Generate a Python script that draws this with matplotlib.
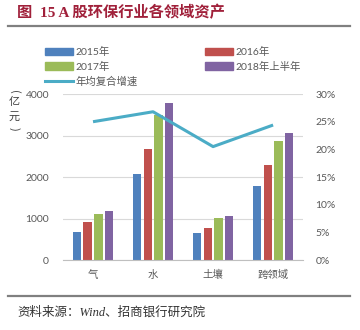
import matplotlib
matplotlib.use("Agg")
import matplotlib.pyplot as plt
import numpy as np
from matplotlib.patches import Patch
from matplotlib.lines import Line2D
from matplotlib.ticker import FuncFormatter

plt.rcParams['font.family'] = ['Lato', 'Noto Sans CJK SC', 'DejaVu Sans']

categories = ['气', '水', '土壤', '跨领域']
series_names = ['2015年', '2016年', '2017年', '2018年上半年']
assets_2015 = [670, 2080, 660, 1780]
assets_2016 = [910, 2680, 780, 2290]
assets_2017 = [1100, 3500, 1010, 2870]
assets_2018h1 = [1180, 3780, 1060, 3070]
cagr = [25.0, 26.8, 20.5, 24.4]
cagr_name = '年均复合增速'

colors = ['#4F81BD', '#C0504D', '#9BBB59', '#8064A2']
line_color = '#4BACC6'
text_gray = '#595959'

fig = plt.figure(figsize=(3.6, 3.3), dpi=100)
ax = fig.add_axes([0.175, 0.212, 0.667, 0.503])
ax2 = ax.twinx()

x = np.arange(len(categories))
step = 0.178
width = 0.14
for i, vals in enumerate([assets_2015, assets_2016, assets_2017, assets_2018h1]):
    ax.bar(x + (i - 1.5) * step, vals, width, color=colors[i], zorder=2)

ax2.plot(x, cagr, color=line_color, lw=2.2, solid_capstyle='butt', zorder=3)

ax.set_xlim(-0.5, 3.5)
ax.set_ylim(0, 4000)
ax.set_yticks(range(0, 4001, 1000))
ax2.set_ylim(0, 30)
ax2.set_yticks(range(0, 31, 5))
ax2.yaxis.set_major_formatter(FuncFormatter(lambda v, p: f'{int(v)}%'))

ax.set_xticks(x)
ax.set_xticklabels(categories)
ax.grid(axis='y', color='#D9D9D9', lw=0.8, zorder=0)
ax.set_axisbelow(True)
for a in (ax, ax2):
    for s in a.spines.values():
        s.set_visible(False)
    a.tick_params(length=0, labelsize=7.5, colors=text_gray)
ax.spines['bottom'].set_visible(True)
ax.spines['bottom'].set_color('#BFBFBF')
ax.tick_params(axis='x', pad=7)
ax.tick_params(axis='y', pad=10)
ax2.tick_params(axis='y', pad=9)

ax2.set_zorder(ax.get_zorder() + 1)
ax2.patch.set_visible(False)

# vertical unit label: rotated brackets around stacked characters
unit_kw = dict(ha='center', va='center', fontsize=8, color='#404040',
               family=['Noto Sans CJK SC'])
fig.text(0.040, 0.722, '(', rotation=-90, **unit_kw)
fig.text(0.040, 0.692, '亿', **unit_kw)
fig.text(0.040, 0.645, '元', **unit_kw)
fig.text(0.040, 0.610, ')', rotation=-90, **unit_kw)

# legend
handles = [Patch(color=colors[0]), Patch(color=colors[2]),
           Line2D([], [], color=line_color, lw=2.2),
           Patch(color=colors[1]), Patch(color=colors[3])]
labels = [series_names[0], series_names[2], cagr_name, series_names[1], series_names[3]]
fig.legend(handles, labels, ncol=2, loc='upper left', bbox_to_anchor=(0.125, 0.858),
           frameon=False, fontsize=7.5, handlelength=2.7, handleheight=0.7,
           handletextpad=0.25, labelspacing=0.45, columnspacing=6.4,
           labelcolor=text_gray, borderaxespad=0, borderpad=0)

# header and footer
fig.text(0.047, 0.962, '图  15 A 股环保行业各领域资产', ha='left', va='center',
         fontsize=11, fontweight='bold', color='#A0203A',
         family=['Liberation Serif', 'Noto Sans CJK SC'])
fig.add_artist(Line2D([0.022, 0.972], [0.921, 0.921], color='#808080', lw=1.6))
fig.add_artist(Line2D([0.022, 0.972], [0.103, 0.103], color='#808080', lw=1.6))
fig.text(0.047, 0.052, '资料来源：Wind、招商银行研究院', ha='left', va='center',
         fontsize=9, color='#333333', style='italic',
         family=['Liberation Serif', 'Noto Sans CJK SC'])

fig.savefig('out.png', dpi=100)
